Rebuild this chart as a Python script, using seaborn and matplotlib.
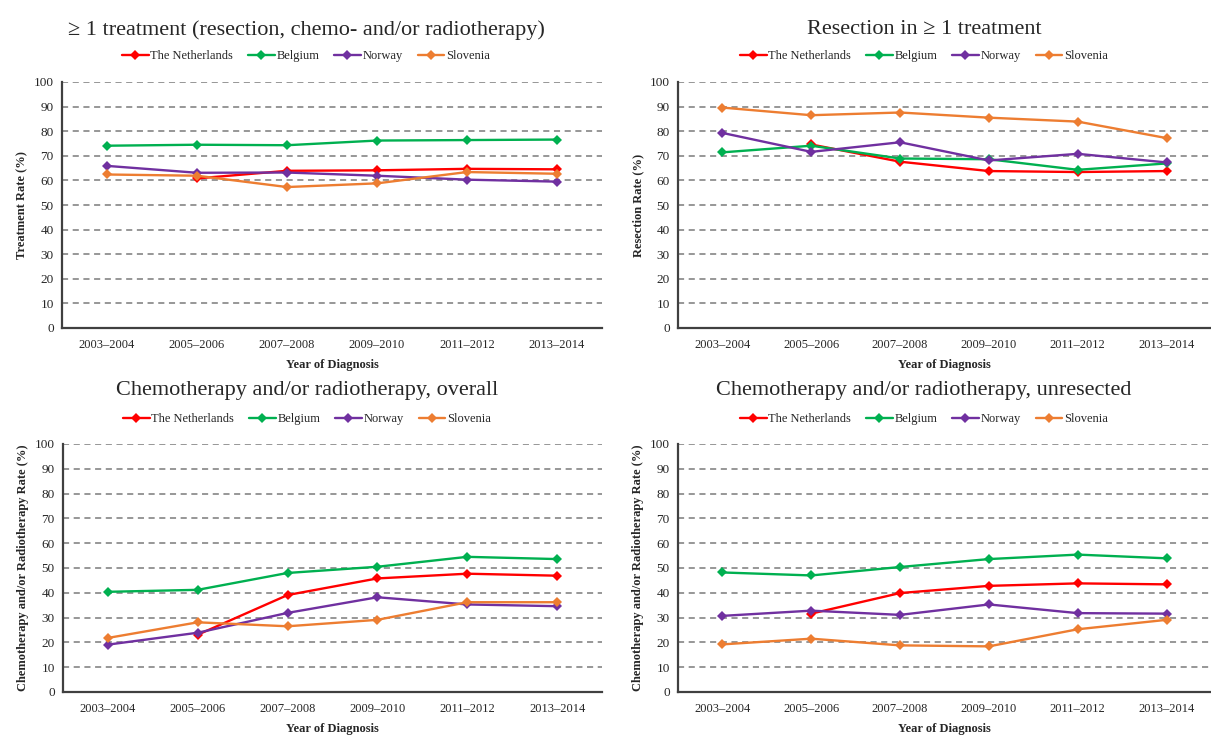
import numpy as np
import pandas as pd
import matplotlib
matplotlib.use("Agg")
import matplotlib.pyplot as plt
import seaborn as sns
from matplotlib.lines import Line2D

periods = ["2003–2004", "2005–2006", "2007–2008", "2009–2010", "2011–2012", "2013–2014"]
countries = ["The Netherlands", "Belgium", "Norway", "Slovenia"]
colors = ["#FF0000", "#00B050", "#7030A0", "#ED7D31"]

# Panel 1: >= 1 treatment
treat_nl = [np.nan, 60.8, 63.9, 64.1, 64.7, 64.5]
treat_be = [74.1, 74.5, 74.3, 76.2, 76.4, 76.6]
treat_no = [65.9, 63.1, 63.2, 61.9, 60.3, 59.5]
treat_si = [62.4, 61.9, 57.3, 58.8, 63.4, 62.7]

# Panel 2: resection
res_nl = [np.nan, 74.6, 67.6, 63.8, 63.4, 63.8]
res_be = [71.4, 74.1, 68.9, 68.6, 64.3, 66.9]
res_no = [79.3, 71.6, 75.5, 68.1, 70.8, 67.3]
res_si = [89.6, 86.5, 87.6, 85.5, 83.9, 77.2]

# Panel 3: chemo/radio overall
cro_nl = [np.nan, 23.1, 39.1, 45.8, 47.7, 46.9]
cro_be = [40.4, 41.2, 48.0, 50.5, 54.5, 53.6]
cro_no = [19.1, 23.9, 31.9, 38.2, 35.3, 34.6]
cro_si = [21.8, 28.1, 26.5, 29.1, 36.2, 36.2]

# Panel 4: chemo/radio unresected
cru_nl = [np.nan, 31.6, 39.9, 42.8, 43.8, 43.4]
cru_be = [48.2, 47.0, 50.4, 53.6, 55.4, 53.9]
cru_no = [30.7, 32.8, 31.1, 35.3, 31.8, 31.6]
cru_si = [19.2, 21.5, 18.8, 18.4, 25.3, 29.1]

titles = ["≥ 1 treatment (resection, chemo- and/or radiotherapy)",
          "Resection in ≥ 1 treatment",
          "Chemotherapy and/or radiotherapy, overall",
          "Chemotherapy and/or radiotherapy, unresected"]
ylabels = ["Treatment Rate (%)", "Resection Rate (%)",
           "Chemotherapy and/or Radiotherapy Rate (%)",
           "Chemotherapy and/or Radiotherapy Rate (%)"]
xlabel = "Year of Diagnosis"
yticks = [0, 10, 20, 30, 40, 50, 60, 70, 80, 90, 100]

panels = [
    [treat_nl, treat_be, treat_no, treat_si],
    [res_nl, res_be, res_no, res_si],
    [cro_nl, cro_be, cro_no, cro_si],
    [cru_nl, cru_be, cru_no, cru_si],
]

sns.set_theme(style="white")
plt.rcParams['font.family'] = ['Liberation Serif', 'DejaVu Serif']

W, H = 1211, 736
fig = plt.figure(figsize=(W / 100, H / 100), dpi=100)

# axes rectangles in pixels: (left, top, right, bottom)
rects = [(62, 82, 602, 328), (678, 82, 1211, 328),
         (63, 444, 602, 692), (678, 444, 1211, 692)]
title_y = [30, 30, 390, 390]
legend_y = [56, 56, 419, 419]
centers = [306, 924, 307, 924]

axis_color = "#404040"
for i, (vals, (l, t, r, b)) in enumerate(zip(panels, rects)):
    ax = fig.add_axes([l / W, 1 - b / H, (r - l) / W, (b - t) / H])
    rows = []
    for c, v in zip(countries, vals):
        for p, y in zip(periods, v):
            rows.append({"period": p, "country": c, "value": y})
    df = pd.DataFrame(rows).dropna()
    df["period"] = pd.Categorical(df["period"], categories=periods, ordered=True)
    df["x"] = df["period"].cat.codes
    sns.lineplot(data=df, x="x", y="value", hue="country", hue_order=countries,
                 palette=colors, marker="D", markersize=5, markeredgewidth=0,
                 linewidth=1.7, ax=ax, legend=False, sort=True)
    ax.set_xlim(-0.5, 5.5)
    ax.set_ylim(0, 100)
    ax.set_yticks(yticks)
    ax.set_yticklabels([str(v) for v in yticks], fontsize=9.5)
    ax.set_xticks(range(len(periods)))
    ax.set_xticklabels(periods, fontsize=9)
    ax.set_xticks(np.arange(-0.5, 6, 1), minor=True)
    ax.tick_params(axis="x", which="major", length=0, pad=8)
    ax.tick_params(axis="x", which="minor", length=4, width=1.2, color=axis_color, direction="out")
    ax.tick_params(axis="y", which="major", length=4, width=1.2, color=axis_color, direction="out", pad=2)
    for yv in yticks[1:]:
        ax.axhline(yv, color="#7a7a7a", linestyle=(0, (4, 3)), linewidth=1.1, zorder=0)
    for s in ["top", "right"]:
        ax.spines[s].set_visible(False)
    for s in ["left", "bottom"]:
        ax.spines[s].set_color(axis_color)
        ax.spines[s].set_linewidth(1.6)
    ax.set_xlabel(xlabel, fontsize=9, fontweight="bold", labelpad=6)
    ax.set_ylabel(ylabels[i], fontsize=9, fontweight="bold", labelpad=4)
    fig.text(centers[i] / W, 1 - title_y[i] / H, titles[i], ha="center", va="center", fontsize=16)
    handles = [Line2D([0], [0], color=col, marker="D", markersize=5, markeredgewidth=0, linewidth=1.7)
               for col in colors]
    ax.legend(handles, countries, ncol=4, loc="center", frameon=False,
              bbox_to_anchor=(centers[i] / W, 1 - legend_y[i] / H), bbox_transform=fig.transFigure,
              fontsize=9, handlelength=2.1, handletextpad=0.15, columnspacing=1.2)

fig.savefig("out.png", dpi=100)
